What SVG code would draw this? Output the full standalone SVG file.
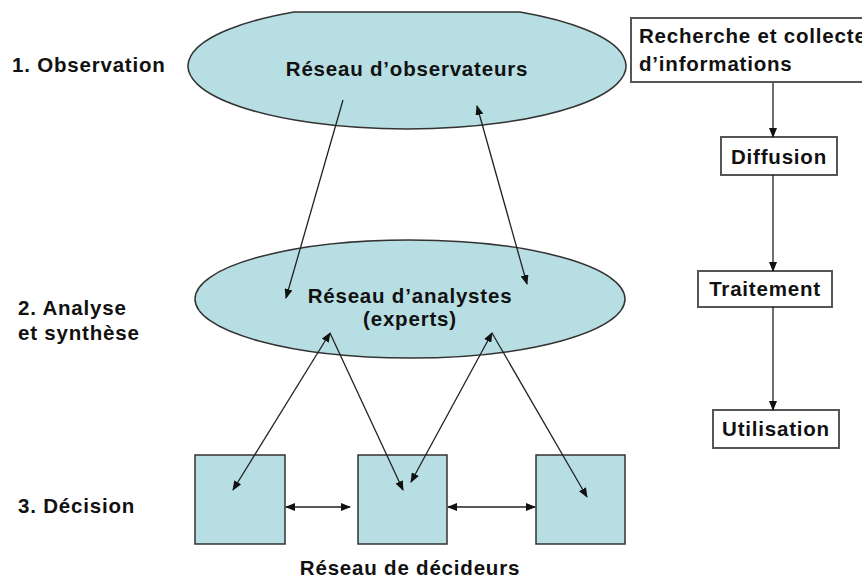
<svg xmlns="http://www.w3.org/2000/svg" width="862" height="581" viewBox="0 0 862 581">
<defs>
<marker id="ah" viewBox="0 0 10 8" refX="9" refY="4" markerWidth="10" markerHeight="8" markerUnits="userSpaceOnUse" orient="auto-start-reverse">
<path d="M0,0 L10,4 L0,8 Z" fill="#111"/>
</marker>
</defs>
<style>
.t{font-family:"Liberation Sans",Arial,sans-serif;font-weight:bold;font-size:20.5px;letter-spacing:0.8px;fill:#111}
.m{text-anchor:middle}
.sh{fill:#b7dfe3;stroke:#333;stroke-width:1.5}
.bx{fill:#fff;stroke:#555;stroke-width:2}
.c{stroke:#222;stroke-width:1.3;fill:none}
</style>
<rect width="862" height="581" fill="#fff"/>
<g id="labels">
<text class="t" x="12" y="72">1. Observation</text>
<text class="t" x="18" y="315">2. Analyse</text>
<text class="t" x="18" y="340">et synthèse</text>
<text class="t" x="18" y="513">3. Décision</text>
</g>
<g id="observateurs">
<path class="sh" d="M294,12 A219 63 0 1 0 520,12 Z"/>
<text class="t m" x="407" y="76">Réseau d’observateurs</text>
</g>
<g id="analystes">
<ellipse class="sh" cx="410" cy="299" rx="215" ry="59"/>
<text class="t m" x="410" y="303">Réseau d’analystes</text>
<text class="t m" x="410" y="326">(experts)</text>
</g>
<g id="decideur1"><rect class="sh" x="195" y="455" width="90" height="89"/></g>
<g id="decideur2"><rect class="sh" x="358" y="455" width="89" height="89"/></g>
<g id="decideur3"><rect class="sh" x="536" y="455" width="89" height="89"/></g>
<g id="decideurs-label"><text class="t m" x="410" y="575">Réseau de décideurs</text></g>
<g id="recherche">
<rect class="bx" x="631" y="18" width="260" height="64"/>
<text class="t" x="639" y="43">Recherche et collecte</text>
<text class="t" x="639" y="71">d’informations</text>
</g>
<g id="diffusion">
<rect class="bx" x="721" y="137" width="116" height="38"/>
<text class="t m" x="779" y="164">Diffusion</text>
</g>
<g id="traitement">
<rect class="bx" x="698" y="271" width="134" height="36"/>
<text class="t m" x="765" y="296">Traitement</text>
</g>
<g id="utilisation">
<rect class="bx" x="713" y="410" width="126" height="38"/>
<text class="t m" x="776" y="436">Utilisation</text>
</g>
<g id="connectors">
<line class="c" x1="343" y1="100" x2="286" y2="298" marker-end="url(#ah)"/>
<line class="c" x1="477" y1="106" x2="527" y2="284" marker-start="url(#ah)" marker-end="url(#ah)"/>
<line class="c" x1="330" y1="333" x2="233" y2="490" marker-start="url(#ah)" marker-end="url(#ah)"/>
<line class="c" x1="330" y1="333" x2="403" y2="490" marker-end="url(#ah)"/>
<line class="c" x1="492" y1="333" x2="411" y2="482" marker-start="url(#ah)" marker-end="url(#ah)"/>
<line class="c" x1="492" y1="333" x2="587" y2="497" marker-end="url(#ah)"/>
<line class="c" x1="286" y1="507" x2="350" y2="507" marker-start="url(#ah)" marker-end="url(#ah)"/>
<line class="c" x1="448" y1="507" x2="535" y2="507" marker-start="url(#ah)" marker-end="url(#ah)"/>
<line class="c" x1="773" y1="83" x2="773" y2="137" marker-end="url(#ah)"/>
<line class="c" x1="773" y1="175" x2="773" y2="271" marker-end="url(#ah)"/>
<line class="c" x1="773" y1="307" x2="773" y2="410" marker-end="url(#ah)"/>
</g>
</svg>
